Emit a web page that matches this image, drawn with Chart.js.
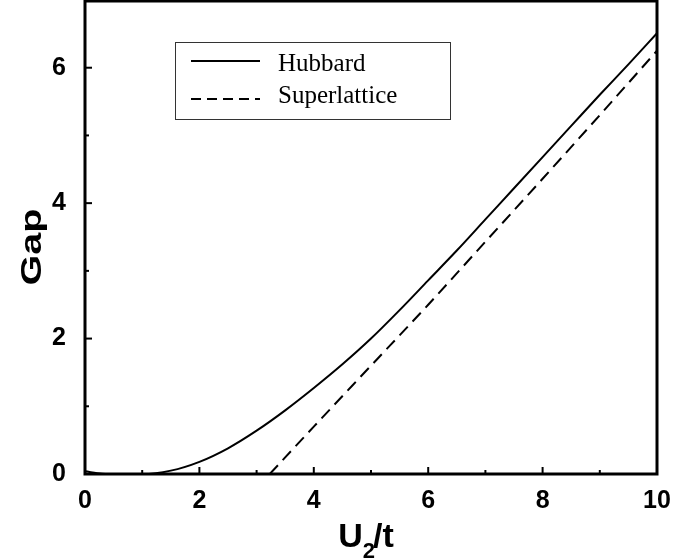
<!DOCTYPE html>
<html>
<head>
<meta charset="utf-8">
<script src="https://cdn.jsdelivr.net/npm/chart.js@4/dist/chart.umd.min.js"></script>
<style>
  html, body { margin: 0; padding: 0; background: #fff; }
  #wrap { width: 675px; height: 560px; }
</style>
</head>
<body>
<div id="wrap"><canvas id="gap"></canvas></div>
<script>
// values
const hubbardU   = [0, 0.3, 0.6, 1.0, 1.5, 2.0, 2.5, 3.0, 3.5, 4.0, 4.5, 5.0, 5.5, 6.0, 6.5, 7.0, 7.5, 8.0, 8.5, 9.0, 9.5, 10];
const hubbardGap = [0.04, 0.005, 0, 0, 0.05, 0.18, 0.38, 0.64, 0.94, 1.27, 1.62, 2.0, 2.42, 2.86, 3.3, 3.76, 4.22, 4.68, 5.14, 5.6, 6.05, 6.51];
const superU     = [3.23, 4.0, 5.0, 6.0, 7.0, 8.0, 9.0, 10];
const superGap   = [0, 0.7, 1.6, 2.5, 3.43, 4.36, 5.3, 6.25];
const xTicks = [0, 2, 4, 6, 8, 10];
const yTicks = [0, 2, 4, 6];
const seriesNames = ['Hubbard', 'Superlattice'];

const toPts = (xs, ys) => xs.map((x, i) => ({ x, y: ys[i] }));
const sans = '"Liberation Sans", Arial, sans-serif';
const tickFont = { family: sans, size: 25, weight: 'bold' };

// no extra room for overhanging labels, the plot fills the canvas
const noPad = s => {
  s.paddingTop = 0; s.paddingBottom = 0; s.paddingLeft = 0; s.paddingRight = 0;
};

const frame = {
  id: 'frame',
  afterDraw(chart) {
    const { ctx, chartArea: a, scales } = chart;
    const xs = scales.x, ys = scales.y;
    ctx.save();
    ctx.strokeStyle = '#000';
    // inward ticks
    ctx.lineWidth = 2;
    for (let v = 1; v < 10; v++) {
      const px = xs.getPixelForValue(v);
      const len = v % 2 === 0 ? 7 : 4;
      ctx.beginPath();
      ctx.moveTo(px, a.bottom);
      ctx.lineTo(px, a.bottom - len);
      ctx.stroke();
    }
    for (let v = 1; v < 7; v++) {
      const py = ys.getPixelForValue(v);
      const len = v % 2 === 0 ? 7 : 4;
      ctx.beginPath();
      ctx.moveTo(a.left, py);
      ctx.lineTo(a.left + len, py);
      ctx.stroke();
    }
    // frame
    ctx.lineWidth = 3;
    ctx.strokeRect(a.left, a.top + 1, a.right - a.left, a.bottom - a.top - 1);

    // legend
    ctx.lineWidth = 1;
    ctx.strokeStyle = '#333';
    ctx.strokeRect(175.5, 42.5, 275, 77);
    ctx.strokeStyle = '#000';
    ctx.lineWidth = 2;
    ctx.beginPath();
    ctx.moveTo(191, 61); ctx.lineTo(260, 61);
    ctx.stroke();
    ctx.setLineDash([10, 6]);
    ctx.beginPath();
    ctx.moveTo(191, 99); ctx.lineTo(260, 99);
    ctx.stroke();
    ctx.setLineDash([]);
    ctx.fillStyle = '#000';
    ctx.font = '25px "Liberation Serif", serif';
    ctx.textBaseline = 'alphabetic';
    ctx.textAlign = 'left';
    ctx.fillText(seriesNames[0], 278, 71);
    ctx.fillText(seriesNames[1], 278, 103);

    // x title with subscript
    const big = 'bold 34px ' + sans, small = 'bold 22px ' + sans;
    ctx.font = big;
    const uW = ctx.measureText('U').width, tW = ctx.measureText('/t').width;
    ctx.font = small;
    const sW = ctx.measureText('2').width;
    const x0 = 367 - (uW + sW + tW) / 2;
    ctx.font = big;
    ctx.fillText('U', x0, 547);
    ctx.fillText('/t', x0 + uW + sW - 2, 547);
    ctx.font = small;
    ctx.fillText('2', x0 + uW, 558);

    // y title, drawn taller like the original
    ctx.font = 'bold 30px ' + sans;
    ctx.translate(41, 247);
    ctx.rotate(-Math.PI / 2);
    ctx.scale(1.32, 1);
    ctx.textAlign = 'center';
    ctx.fillText('Gap', 0, 0);
    ctx.restore();
  }
};

new Chart(document.getElementById('gap'), {
  type: 'scatter',
  data: {
    datasets: [
      {
        label: seriesNames[0],
        data: toPts(hubbardU, hubbardGap),
        showLine: true,
        borderColor: '#000',
        borderWidth: 2,
        pointRadius: 0,
        cubicInterpolationMode: 'monotone',
      },
      {
        label: seriesNames[1],
        data: toPts(superU, superGap),
        showLine: true,
        borderColor: '#000',
        borderWidth: 2,
        borderDash: [12, 7],
        pointRadius: 0,
        cubicInterpolationMode: 'monotone',
      },
    ],
  },
  options: {
    responsive: true,
    maintainAspectRatio: false,
    animation: false,
    layout: { padding: { top: 0, right: 18, left: 0, bottom: 0 } },
    plugins: { legend: { display: false }, tooltip: { enabled: false } },
    scales: {
      x: {
        type: 'linear',
        min: 0, max: 10,
        grid: { display: false, drawTicks: false },
        border: { display: false },
        afterFit: s => { s.height = 86; noPad(s); },
        afterBuildTicks: s => { s.ticks = xTicks.map(v => ({ value: v })); },
        ticks: { color: '#000', padding: 12, maxRotation: 0, font: tickFont },
      },
      y: {
        type: 'linear',
        min: 0, max: 7,
        grid: { display: false, drawTicks: false },
        border: { display: false },
        afterFit: s => { s.width = 85; noPad(s); },
        afterBuildTicks: s => { s.ticks = yTicks.map(v => ({ value: v })); },
        ticks: { color: '#000', padding: 19, font: tickFont },
      },
    },
  },
  plugins: [frame],
});
</script>
</body>
</html>
